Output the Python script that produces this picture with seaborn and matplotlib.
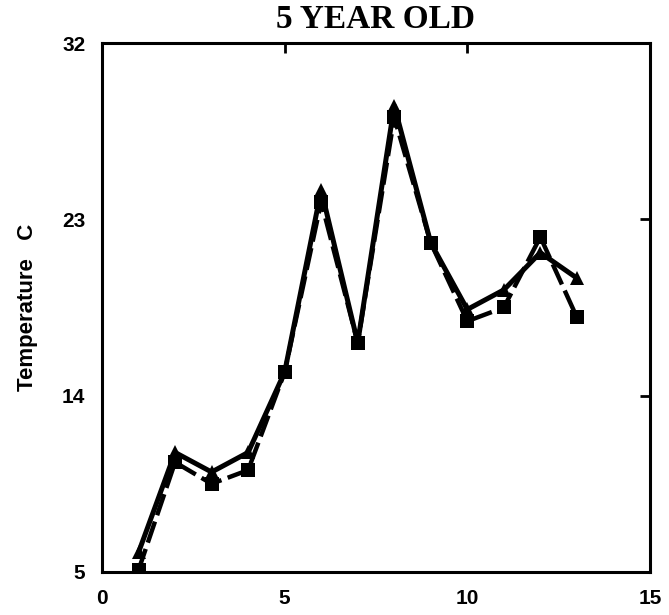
import matplotlib
matplotlib.use("Agg")
import matplotlib.pyplot as plt
import seaborn as sns
import pandas as pd

# Monthly readings for the 5-year-old stand
months = [1, 2, 3, 4, 5, 6, 7, 8, 9, 10, 11, 12, 13]
temp_solid = [6.0, 11.1, 10.1, 11.1, 15.2, 24.5, 16.7, 28.8, 21.8, 18.4, 19.4, 21.3, 20.0]
temp_dashed = [5.1, 10.6, 9.5, 10.2, 15.2, 23.9, 16.7, 28.2, 21.8, 17.8, 18.5, 22.1, 18.0]

x_ticks = [0, 5, 10, 15]
y_ticks = [5, 14, 23, 32]

sns.set_style("white")
plt.rcParams["font.family"] = ["Liberation Sans", "DejaVu Sans"]
plt.rcParams["text.color"] = "black"
plt.rcParams["axes.labelcolor"] = "black"

df_solid = pd.DataFrame({"month": months, "temp": temp_solid})
df_dashed = pd.DataFrame({"month": months, "temp": temp_dashed})

fig = plt.figure(figsize=(6.69, 6.15), dpi=100)
ax = fig.add_axes([0.1525, 0.070, 0.819, 0.860])

sns.lineplot(data=df_dashed, x="month", y="temp", ax=ax, color="black",
             linewidth=3.2, marker="s", markersize=10, markeredgewidth=0,
             dashes=False, linestyle=(0, (5, 1.5)))
sns.lineplot(data=df_solid, x="month", y="temp", ax=ax, color="black",
             linewidth=3.6, marker="^", markersize=10, markeredgewidth=0)

ax.set_xlim(0, 15)
ax.set_ylim(5, 32)
ax.set_xticks(x_ticks)
ax.set_yticks(y_ticks)
ax.set_xticklabels([str(t) for t in x_ticks], fontsize=15, fontweight="bold")
ax.set_yticklabels([str(t) for t in y_ticks], fontsize=15, fontweight="bold")
ax.tick_params(direction="in", length=7, width=2, top=True, right=True,
               pad=12, colors="black")

for spine in ax.spines.values():
    spine.set_linewidth(2.2)
    spine.set_color("black")

ax.set_xlabel("")
ax.set_ylabel("Temperature   C", fontsize=16, fontweight="bold", labelpad=17)
ax.set_title("5 YEAR OLD", fontsize=24, fontweight="bold", color="black",
             family=["Liberation Serif", "DejaVu Serif"], pad=11)

fig.savefig("out.png", dpi=100)
